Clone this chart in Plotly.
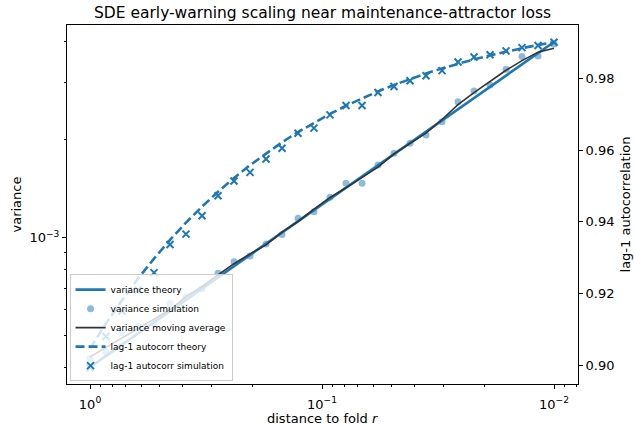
import plotly.graph_objects as go

# distance to fold r (log-spaced from 1 to 0.01)
r = [1.0, 0.8532, 0.7279, 0.6210, 0.5298, 0.4520, 0.3857, 0.3290, 0.2807, 0.2395,
     0.2043, 0.1743, 0.1487, 0.1269, 0.1083, 0.09237, 0.07880, 0.06723, 0.05736, 0.04894,
     0.04175, 0.03562, 0.03039, 0.02593, 0.02212, 0.01887, 0.01610, 0.01374, 0.01172, 0.01]

var_theory = [4.000e-4, 4.330e-4, 4.688e-4, 5.076e-4, 5.495e-4, 5.950e-4, 6.441e-4, 6.974e-4,
              7.550e-4, 8.174e-4, 8.849e-4, 9.580e-4, 1.0372e-3, 1.1229e-3, 1.2157e-3,
              1.3161e-3, 1.4249e-3, 1.5426e-3, 1.6701e-3, 1.8081e-3, 1.9576e-3, 2.1193e-3,
              2.2945e-3, 2.4841e-3, 2.6894e-3, 2.9116e-3, 3.1522e-3, 3.4127e-3, 3.6947e-3,
              4.0e-3]

var_sim = [4.25e-4, 4.45e-4, 5.10e-4, 5.35e-4, 5.45e-4, 6.28e-4, 6.57e-4, 6.96e-4, 7.77e-4,
           8.44e-4, 8.78e-4, 9.56e-4, 1.024e-3, 1.147e-3, 1.202e-3, 1.331e-3, 1.470e-3,
           1.470e-3, 1.674e-3, 1.818e-3, 1.952e-3, 2.070e-3, 2.275e-3, 2.621e-3, 2.828e-3,
           2.950e-3, 3.298e-3, 3.606e-3, 3.624e-3, 3.945e-3]

var_ma = [4.30e-4, 4.59e-4, 4.91e-4, 5.26e-4, 5.62e-4, 6.01e-4, 6.59e-4, 7.08e-4, 7.69e-4,
          8.32e-4, 8.92e-4, 9.51e-4, 1.040e-3, 1.122e-3, 1.225e-3, 1.330e-3, 1.424e-3,
          1.536e-3, 1.648e-3, 1.811e-3, 1.944e-3, 2.096e-3, 2.310e-3, 2.565e-3, 2.796e-3,
          3.018e-3, 3.273e-3, 3.504e-3, 3.722e-3, 3.827e-3]

ac_theory = [0.90484, 0.91177, 0.91822, 0.92422, 0.92980, 0.93498, 0.93979, 0.94425, 0.94840,
             0.95224, 0.95580, 0.95911, 0.96217, 0.96501, 0.96763, 0.97007, 0.97232, 0.97440,
             0.97634, 0.97812, 0.97977, 0.98130, 0.98272, 0.98403, 0.98524, 0.98636, 0.98739,
             0.98835, 0.98923, 0.99005]

ac_sim = [0.8994, 0.9081, 0.9152, 0.9211, 0.9259, 0.9337, 0.9366, 0.9417, 0.9473, 0.9514,
          0.9538, 0.9575, 0.9605, 0.9647, 0.9661, 0.9698, 0.9724, 0.9724, 0.9760, 0.9777,
          0.9793, 0.9807, 0.9821, 0.9845, 0.9859, 0.9865, 0.9876, 0.9885, 0.9891, 0.9900]

x_ticks = [1, 0.1, 0.01]
x_ticktext = ["10<sup>0</sup>", "10<sup>\u22121</sup>", "10<sup>\u22122</sup>"]
x_minor = [m * d for d in (0.1, 0.01, 0.001) for m in range(2, 10)]
y_ticks = [1e-3]
y_ticktext = ["10<sup>\u22123</sup>"]
y_minor = [4e-4, 5e-4, 6e-4, 7e-4, 8e-4, 9e-4, 2e-3, 3e-3, 4e-3]
ac_ticks = [0.90, 0.92, 0.94, 0.96, 0.98]
ac_ticktext = ["0.90", "0.92", "0.94", "0.96", "0.98"]

BLUE = "#1f77b4"
FONT = "DejaVu Sans"

fig = go.Figure()
fig.add_trace(go.Scatter(x=r, y=var_theory, mode="lines", name="variance theory",
                         line=dict(color=BLUE, width=2.6), yaxis="y"))
fig.add_trace(go.Scatter(x=r, y=var_sim, mode="markers", name="variance simulation",
                         marker=dict(color=BLUE, size=7, opacity=0.5, line=dict(width=0)),
                         yaxis="y"))
fig.add_trace(go.Scatter(x=r, y=var_ma, mode="lines", name="variance moving average",
                         line=dict(color="#333333", width=1.6), yaxis="y"))
fig.add_trace(go.Scatter(x=r, y=ac_theory, mode="lines", name="lag-1 autocorr theory",
                         line=dict(color=BLUE, width=2.6, dash="9px,4px"), yaxis="y2"))
fig.add_trace(go.Scatter(x=r, y=ac_sim, mode="markers", name="lag-1 autocorr simulation",
                         marker=dict(symbol="x-thin", size=7, color=BLUE,
                                     line=dict(color=BLUE, width=2)),
                         yaxis="y2"))

axis_common = dict(showline=True, linecolor="black", linewidth=1, ticks="outside",
                   ticklen=4, tickwidth=1, tickcolor="black", showgrid=False, zeroline=False,
                   automargin=False,
                   tickfont=dict(family=FONT, size=13, color="black"))

fig.update_layout(
    width=634, height=426,
    margin=dict(l=67, r=56, t=25, b=42, autoexpand=False),
    paper_bgcolor="white", plot_bgcolor="white",
    font=dict(family=FONT, size=13, color="black"),
    title=dict(text="SDE early-warning scaling near maintenance-attractor loss",
               xref="paper", x=0.5, xanchor="center", yref="container", y=1 - 13 / 426,
               yanchor="middle", font=dict(family=FONT, size=15.5, color="black")),
    xaxis=dict(type="log", range=[0.0992, -2.1034], tickmode="array", tickvals=x_ticks,
               ticktext=x_ticktext, mirror=True, ticklabelstandoff=4,
               minor=dict(tickmode="array", tickvals=x_minor, ticks="outside", ticklen=2,
                          tickwidth=1, tickcolor="black", showgrid=False),
               **axis_common),
    yaxis=dict(type="log", range=[-3.4498, -2.3458], tickmode="array", tickvals=y_ticks,
               ticktext=y_ticktext,
               minor=dict(tickmode="array", tickvals=y_minor, ticks="outside", ticklen=2,
                          tickwidth=1, tickcolor="black", showgrid=False),
               **axis_common),
    yaxis2=dict(overlaying="y", side="right", range=[0.8949, 0.9948], tickmode="array",
                tickvals=ac_ticks, ticktext=ac_ticktext, **axis_common),
    legend=dict(x=0.005, y=0.008, xanchor="left", yanchor="bottom",
                bgcolor="rgba(255,255,255,0.8)", bordercolor="#cccccc", borderwidth=1,
                font=dict(family=FONT, size=9, color="black"), itemwidth=30,
                tracegroupgap=0, traceorder="normal"),
    showlegend=True,
    annotations=[
        dict(text="distance to fold <i>r</i>", xref="paper", yref="paper", x=0.5,
             y=-0.0955, xanchor="center", yanchor="middle", showarrow=False,
             font=dict(family=FONT, size=13, color="black")),
        dict(text="variance", xref="paper", yref="paper", x=-0.0998, y=0.5,
             xanchor="center", yanchor="middle", textangle=-90, showarrow=False,
             font=dict(family=FONT, size=13, color="black")),
        dict(text="lag-1 autocorrelation", xref="paper", yref="paper", x=1.0939, y=0.5,
             xanchor="center", yanchor="middle", textangle=-90, showarrow=False,
             font=dict(family=FONT, size=13, color="black")),
    ],
)

# remove the browser's default 8px body margin so the figure sits at the page origin
fig.write_html("out.html", config={"displayModeBar": False},
               post_script="document.body.style.margin='0';")
